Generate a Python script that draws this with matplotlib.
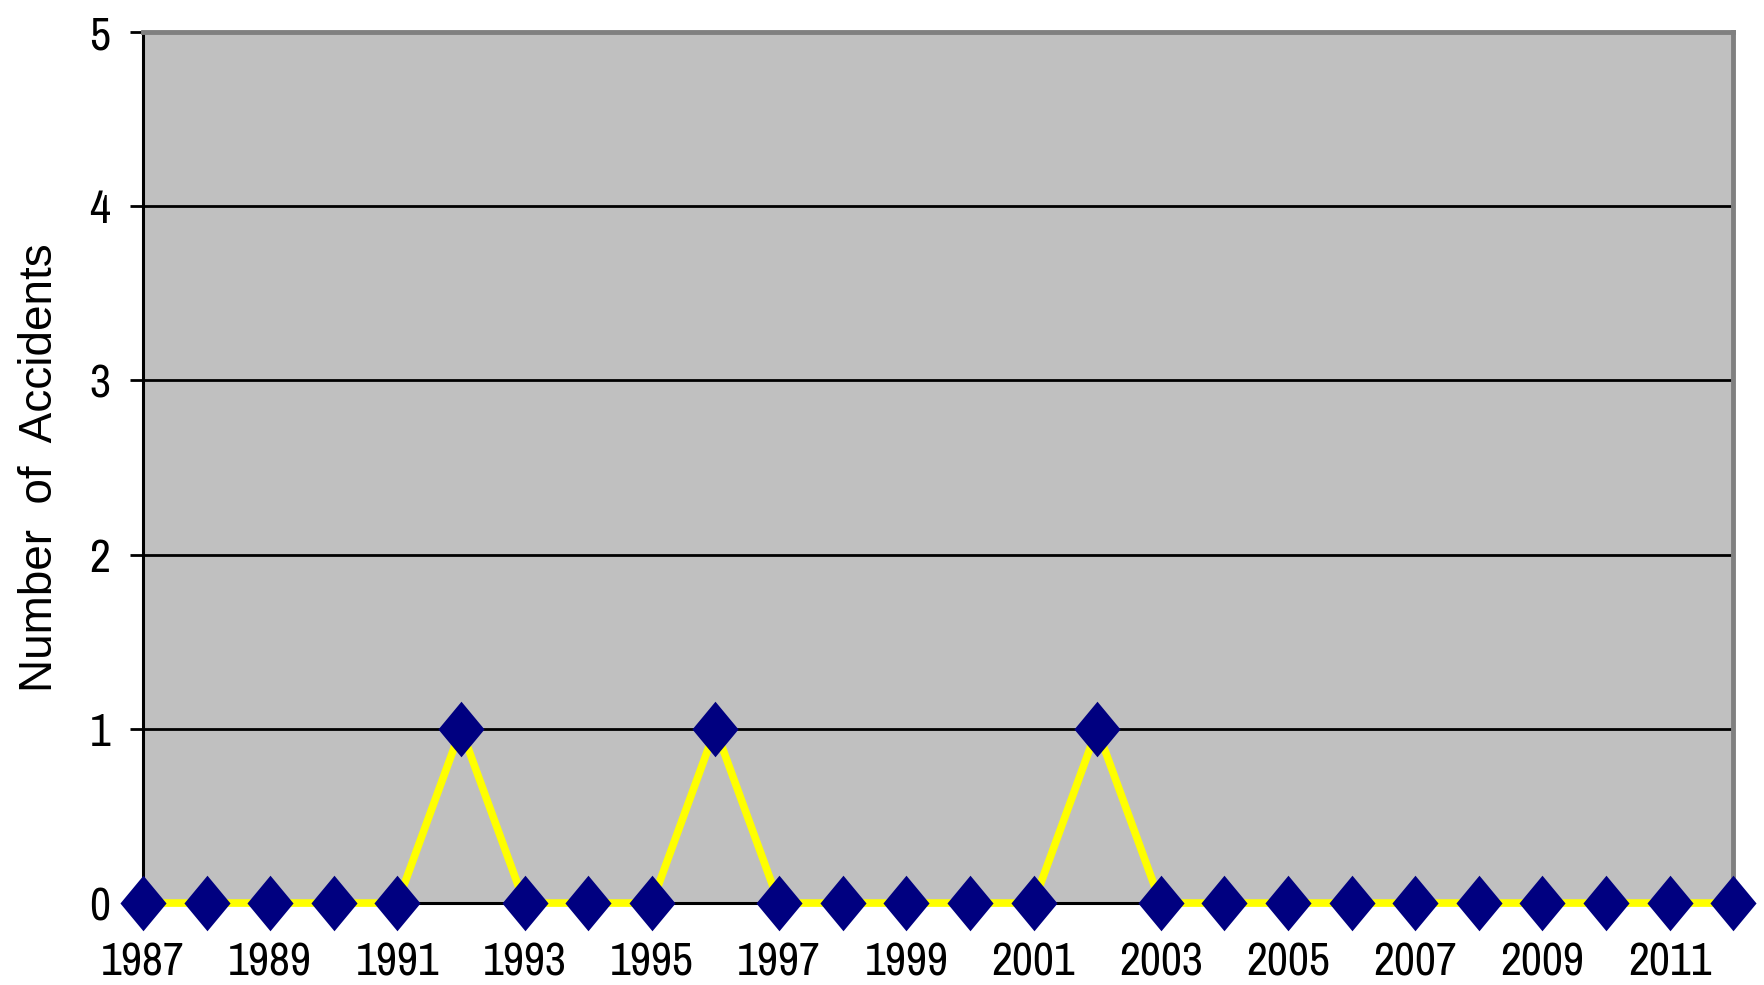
import numpy as np
import matplotlib.pyplot as plt
from matplotlib import font_manager

years = list(range(1987, 2013))
accidents = [0, 0, 0, 0, 0, 1, 0, 0, 0, 1, 0, 0, 0, 0, 0, 1,
             0, 0, 0, 0, 0, 0, 0, 0, 0, 0]
year_ticks = list(range(1987, 2012, 2))
y_ticks = [0, 1, 2, 3, 4, 5]

# look for a regular narrow/condensed sans face for the tick numbers
fonts = font_manager.fontManager.ttflist
narrow = [f for f in fonts
          if ('Narrow' in f.name or 'Condensed' in f.name
              or f.stretch in ('condensed', 'semi-condensed', 'extra-condensed'))
          and f.weight in (400, 'normal', 'regular') and f.style == 'normal'
          and 'Serif' not in f.name and 'Mono' not in f.name
          and 'Serif' not in f.fname and 'Mono' not in f.fname
          and 'Bold' not in f.fname and 'Oblique' not in f.fname]
narrow.sort(key=lambda f: ('Narrow' not in f.name, f.fname))
if narrow:
    tick_props = font_manager.FontProperties(fname=narrow[0].fname)
else:
    tick_props = font_manager.FontProperties(family='Liberation Sans')

fig = plt.figure(figsize=(17.65, 9.85), dpi=100)
ax = fig.add_axes([0.081, 0.0832, 0.901, 0.8843])
ax.set_facecolor('#C0C0C0')

# tall diamond marker
diamond = [(-0.83, 0), (0, 1), (0.83, 0), (0, -1), (-0.83, 0)]
ax.plot(years, accidents, color='#FFFF00', linewidth=5.5,
        marker=diamond, markersize=40, markerfacecolor='#000080',
        markeredgecolor='#000080', markeredgewidth=0, clip_on=False, zorder=5)

ax.set_xlim(1987, 2012)
ax.set_ylim(0, 5)
ax.set_yticks(y_ticks)
ax.set_xticks(year_ticks)
ax.yaxis.grid(True, color='black', linewidth=2)
ax.set_axisbelow(True)

for side in ['left', 'bottom']:
    ax.spines[side].set_color('black')
    ax.spines[side].set_linewidth(2.2)
for side in ['top', 'right']:
    ax.spines[side].set_color('#808080')
    ax.spines[side].set_linewidth(3.5)

ax.tick_params(axis='y', direction='out', length=9.5, width=2, pad=14,
               labelsize=33, colors='black')
ax.tick_params(axis='x', length=0, pad=28, labelsize=33)
for lab in ax.get_xticklabels() + ax.get_yticklabels():
    lab.set_fontproperties(tick_props)
    lab.set_fontsize(33)

ax.set_ylabel('Number  of  Accidents', fontsize=33, family='Liberation Sans',
              labelpad=20)

fig.savefig('out.png', dpi=100)
